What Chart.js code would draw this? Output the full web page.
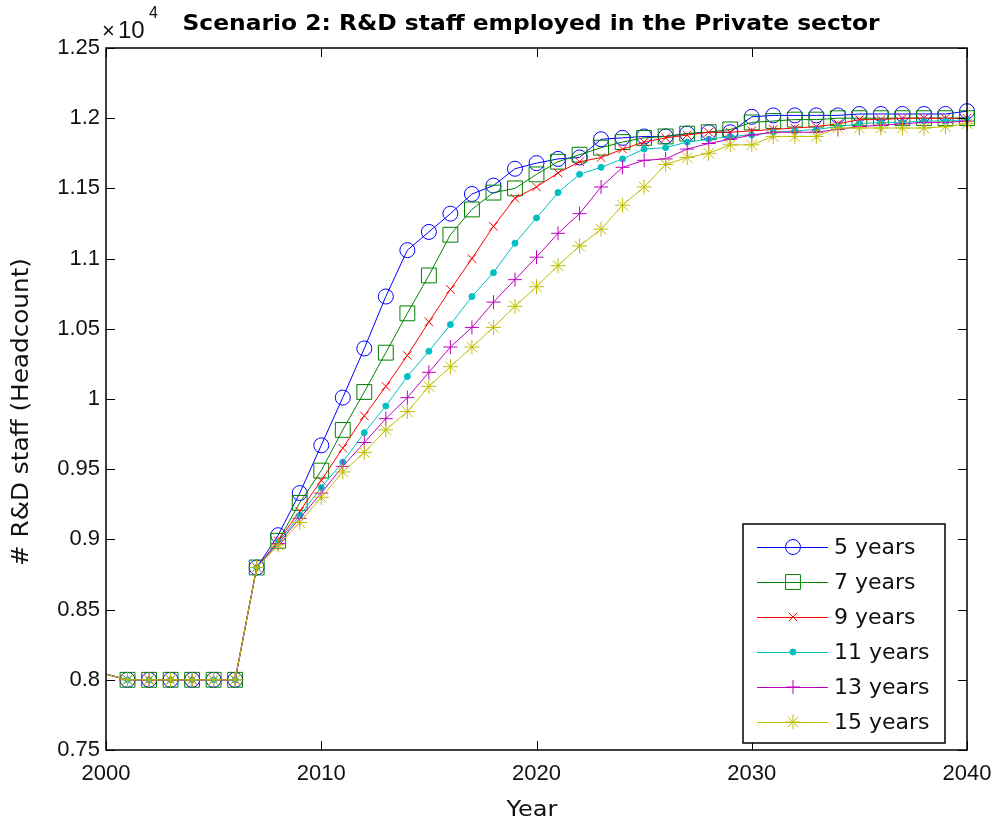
<!DOCTYPE html>
<html>
<head>
<meta charset="utf-8">
<script src="https://cdn.jsdelivr.net/npm/chart.js@4.4.0/dist/chart.umd.min.js"></script>
<style>
  html, body { margin: 0; padding: 0; background: #fff; }
  #wrap { width: 996px; height: 825px; }
</style>
</head>
<body>
<div id="wrap"><canvas id="staffChart"></canvas></div>
<script>
// Years on the x axis (2000 has no marker, the line just starts there)
const years = [2000, 2001, 2002, 2003, 2004, 2005, 2006, 2007, 2008, 2009,
               2010, 2011, 2012, 2013, 2014, 2015, 2016, 2017, 2018, 2019,
               2020, 2021, 2022, 2023, 2024, 2025, 2026, 2027, 2028, 2029,
               2030, 2031, 2032, 2033, 2034, 2035, 2036, 2037, 2038, 2039, 2040];

// Headcount per scenario
const start = [8040, 8000, 8000, 8000, 8000, 8000, 8000, 8800]; // 2000-2007, same for all

const years5 = start.concat([9030, 9330, 9670, 10010, 10360, 10730, 11060, 11190, 11320, 11460,
  11520, 11640, 11680, 11710, 11720, 11850, 11860, 11870, 11870, 11890, 11900, 11900,
  12010, 12020, 12020, 12020, 12020, 12030, 12030, 12030, 12030, 12030, 12050]);
const years7 = start.concat([8990, 9260, 9490, 9780, 10050, 10330, 10610, 10880, 11170, 11350,
  11470, 11500, 11600, 11690, 11740, 11790, 11830, 11860, 11870, 11890, 11900, 11920,
  11970, 11980, 11990, 11990, 12000, 12000, 12000, 12000, 12000, 12000, 12000]);
const years9 = start.concat([8990, 9200, 9420, 9650, 9880, 10090, 10310, 10550, 10780, 11000,
  11230, 11430, 11510, 11610, 11690, 11720, 11780, 11830, 11860, 11880, 11900, 11900,
  11910, 11920, 11930, 11940, 11960, 11990, 11990, 12000, 12000, 12000, 12000]);
const years11 = start.concat([8980, 9170, 9370, 9550, 9760, 9950, 10160, 10340, 10530, 10730,
  10900, 11110, 11290, 11470, 11600, 11650, 11710, 11780, 11790, 11830, 11850, 11870,
  11880, 11900, 11910, 11920, 11940, 11960, 11970, 11970, 11980, 11980, 11990]);
const years13 = start.concat([8970, 9150, 9330, 9520, 9690, 9860, 10010, 10190, 10370, 10510,
  10690, 10850, 11010, 11180, 11320, 11510, 11650, 11700, 11710, 11780, 11820, 11850,
  11880, 11900, 11900, 11900, 11920, 11940, 11950, 11960, 11970, 11970, 11980]);
const years15 = start.concat([8960, 9120, 9300, 9480, 9620, 9780, 9910, 10090, 10230, 10370,
  10510, 10660, 10800, 10950, 11090, 11210, 11380, 11510, 11670, 11720, 11750, 11810,
  11810, 11870, 11870, 11870, 11930, 11930, 11930, 11930, 11930, 11940, 11960]);

const seriesLabels = ['5 years', '7 years', '9 years', '11 years', '13 years', '15 years'];
const seriesValues = [years5, years7, years9, years11, years13, years15];

const TICK_FONT = "'Liberation Sans', Arial, Helvetica, sans-serif";
const TEXT_FONT = "'DejaVu Sans', Verdana, sans-serif";
const TICK = 9;

// MATLAB-ish line styles: colour, marker, marker size
const styles = [
  { color: '#0000ff', marker: 'circle',   radius: 7.5,  fill: 'rgba(0,0,0,0)' },
  { color: '#008000', marker: 'rect',     radius: 10.5, fill: 'rgba(0,0,0,0)' },
  { color: '#ff0000', marker: 'crossRot', radius: 6,    fill: 'rgba(0,0,0,0)' },
  { color: '#00bfbf', marker: 'circle',   radius: 3,    fill: '#00bfbf' },
  { color: '#bf00bf', marker: 'cross',    radius: 7,    fill: 'rgba(0,0,0,0)' },
  { color: '#bfbf00', marker: 'star',     radius: 7.5,  fill: 'rgba(0,0,0,0)' }
];

const datasets = seriesValues.map((vals, i) => ({
  label: seriesLabels[i],
  data: vals.map((v, j) => ({ x: years[j], y: v })),
  borderColor: styles[i].color,
  backgroundColor: styles[i].fill,
  borderWidth: 1,
  pointStyle: styles[i].marker,
  pointRadius: c => c.dataIndex === 0 ? 0 : styles[i].radius,
  pointBorderColor: styles[i].color,
  pointBackgroundColor: styles[i].fill,
  pointBorderWidth: 1,
  pointHoverRadius: styles[i].radius,
  tension: 0,
  fill: false,
  clip: false,
  order: 5 - i   // later series drawn on top like MATLAB
}));

// draw text squeezed/stretched to a given width (MATLAB fonts are wider)
function fitText(ctx, text, x, y, width, font, angle) {
  ctx.save();
  ctx.font = font;
  const w = ctx.measureText(text).width;
  ctx.translate(x, y);
  if (angle) ctx.rotate(angle);
  ctx.scale(width / w, 1);
  ctx.textAlign = 'center';
  ctx.fillText(text, 0, 0);
  ctx.restore();
}

// box, inward ticks, title, axis labels, exponent and the legend
const matlabFrame = {
  id: 'matlabFrame',
  afterDatasetsDraw(chart) {
    const { ctx, chartArea: a, scales: { x, y } } = chart;
    ctx.save();
    ctx.strokeStyle = '#000';
    ctx.lineWidth = 1;
    ctx.beginPath();
    x.ticks.forEach(t => {
      const px = Math.round(x.getPixelForValue(t.value)) + 0.5;
      ctx.moveTo(px, a.bottom); ctx.lineTo(px, a.bottom - TICK);
      ctx.moveTo(px, a.top); ctx.lineTo(px, a.top + TICK);
    });
    y.ticks.forEach(t => {
      const py = Math.round(y.getPixelForValue(t.value)) + 0.5;
      ctx.moveTo(a.left, py); ctx.lineTo(a.left + TICK, py);
      ctx.moveTo(a.right, py); ctx.lineTo(a.right - TICK, py);
    });
    ctx.stroke();
    ctx.lineWidth = 1.5;
    ctx.strokeRect(a.left, a.top, a.right - a.left, a.bottom - a.top);
    ctx.restore();
  },
  afterDraw(chart) {
    const { ctx, chartArea: a } = chart;
    ctx.save();
    ctx.fillStyle = '#000';
    ctx.textBaseline = 'alphabetic';

    // title and axis labels
    fitText(ctx, 'Scenario 2: R&D staff employed in the Private sector', 531, 30, 697, 'bold 21px ' + TEXT_FONT);
    ctx.fillStyle = '#111';
    fitText(ctx, 'Year', 532, 816, 51, '22px ' + TEXT_FONT);
    fitText(ctx, '# R&D staff (Headcount)', 28, 412, 308, '23px ' + TEXT_FONT, -Math.PI / 2);

    // x 10^4 multiplier
    ctx.textAlign = 'left';
    ctx.font = '22px ' + TICK_FONT;
    ctx.fillText('\u00d7', a.left - 4, 38);
    ctx.font = '24px ' + TICK_FONT;
    ctx.fillText('10', a.left + 12, 38);
    ctx.font = '16px ' + TICK_FONT;
    ctx.fillText('4', a.left + 43, 18);

    // legend
    const lx = 743, ly = 524, lw = 202, lh = 219;
    ctx.fillStyle = '#fff';
    ctx.fillRect(lx, ly, lw, lh);
    ctx.strokeStyle = '#000';
    ctx.lineWidth = 1.5;
    ctx.strokeRect(lx, ly, lw, lh);
    ctx.font = '22px ' + TEXT_FONT;
    ctx.textBaseline = 'middle';
    seriesLabels.forEach((lab, i) => {
      const st = styles[i];
      const cy = ly + 23 + i * 35;
      ctx.strokeStyle = st.color;
      ctx.lineWidth = 1;
      ctx.beginPath();
      ctx.moveTo(lx + 14, cy + 0.5);
      ctx.lineTo(lx + 85, cy + 0.5);
      ctx.stroke();
      ctx.fillStyle = st.fill;
      Chart.helpers.drawPoint(ctx, { pointStyle: st.marker, radius: st.radius, rotation: 0, borderWidth: 1 }, lx + 50, cy);
      ctx.fillStyle = '#111';
      ctx.fillText(lab, lx + 91, cy + 1);
    });
    ctx.restore();
  }
};

const ctx = document.getElementById('staffChart').getContext('2d');
new Chart(ctx, {
  type: 'line',
  data: { datasets },
  options: {
    responsive: true,
    maintainAspectRatio: false,
    animation: false,
    layout: { padding: { top: 48, right: 29, left: 0, bottom: 0 } },
    plugins: {
      legend: { display: false },
      tooltip: { enabled: false },
      title: { display: false }
    },
    scales: {
      x: {
        type: 'linear',
        min: 2000,
        max: 2040,
        border: { display: false },
        grid: { display: false, drawTicks: false },
        ticks: {
          stepSize: 10,
          padding: 11,
          color: '#111',
          font: { family: TICK_FONT, size: 22 },
          maxRotation: 0,
          callback: v => String(v)
        },
        afterFit: s => { s.height = 75; s.paddingLeft = 0; s.paddingRight = 0; }
      },
      y: {
        min: 7500,
        max: 12500,
        border: { display: false },
        grid: { display: false, drawTicks: false },
        ticks: {
          stepSize: 500,
          padding: 6,
          color: '#111',
          font: { family: TICK_FONT, size: 22 },
          callback: v => String(parseFloat((v / 10000).toFixed(2)))
        },
        afterFit: s => { s.width = 106; }
      }
    }
  },
  plugins: [matlabFrame]
});
</script>
</body>
</html>
